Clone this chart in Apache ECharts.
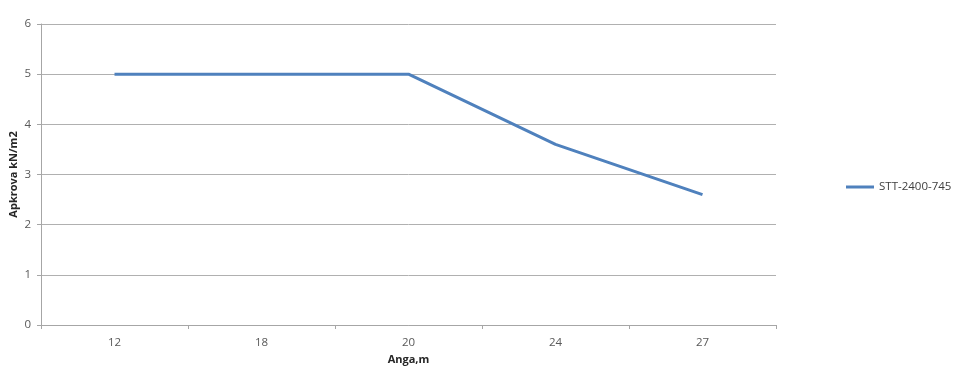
<!DOCTYPE html>
<html><head><meta charset="utf-8">
<script src="https://cdn.jsdelivr.net/npm/echarts@6/dist/echarts.min.js"></script>
<style>html,body{margin:0;padding:0;background:#fff}#c{width:960px;height:373px}</style>
</head><body><div id="c"></div>
<script>
const categories = ['12', '18', '20', '24', '27'];
const seriesName = 'STT-2400-745';
const values = [5, 5, 5, 3.6, 2.6];
const yTicks = [0, 1, 2, 3, 4, 5, 6];

const chart = echarts.init(document.getElementById('c'));
chart.setOption({
  animation: false,
  backgroundColor: '#fff',
  textStyle: { fontFamily: 'Open Sans' },
  grid: { left: 41, right: 184, top: 24, bottom: 48, containLabel: false, outerBoundsMode: 'none' },
  legend: {
    data: [seriesName], left: 841, top: 176, orient: 'vertical',
    itemWidth: 28, itemHeight: 3, itemGap: 4, icon: 'rect',
    textStyle: { color: '#404040', fontSize: 11.5, fontFamily: 'Open Sans' }
  },
  xAxis: {
    type: 'category', data: categories, boundaryGap: true,
    name: 'Anga,m', nameLocation: 'middle', nameGap: 22,
    nameTextStyle: { color: '#262626', fontSize: 11, fontWeight: 'bold', fontFamily: 'Open Sans' },
    axisLine: { lineStyle: { color: '#a6a6a6', width: 1 } },
    axisTick: { show: true, length: 4, alignWithLabel: false, lineStyle: { color: '#a6a6a6' } },
    axisLabel: { color: '#595959', fontSize: 11.5, margin: 12, fontFamily: 'Open Sans' },
    splitLine: { show: false }
  },
  yAxis: {
    type: 'value', min: yTicks[0], max: yTicks[yTicks.length - 1], interval: 1,
    name: 'Apkrova kN/m2', nameLocation: 'middle', nameGap: 22, nameRotate: 90,
    nameMoveOverlap: false,
    nameTextStyle: { color: '#262626', fontSize: 11, fontWeight: 'bold', fontFamily: 'Open Sans' },
    axisLine: { show: true, lineStyle: { color: '#a6a6a6', width: 1 } },
    axisTick: { show: true, length: 4, lineStyle: { color: '#a6a6a6' } },
    axisLabel: { color: '#595959', fontSize: 11.5, margin: 10, fontFamily: 'Open Sans' },
    splitLine: { show: true, lineStyle: { color: '#b0b0b0', width: 1 } }
  },
  series: [{
    name: seriesName, type: 'line', data: values,
    symbol: 'none', smooth: false,
    lineStyle: { color: '#4f81bd', width: 3 },
    itemStyle: { color: '#4f81bd' }
  }]
});
</script></body></html>
